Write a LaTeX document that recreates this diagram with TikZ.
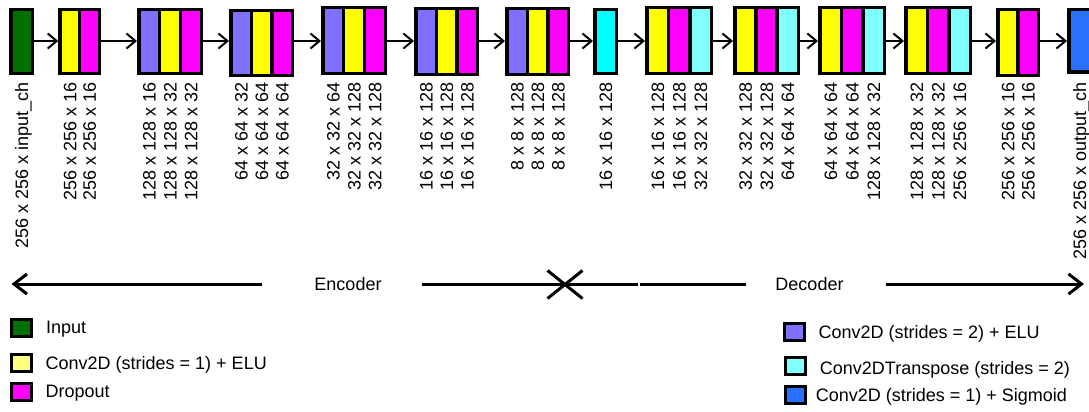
\documentclass[tikz,border=0pt]{standalone}
\usepackage{fontspec}
\setmainfont{Liberation Sans}
\usetikzlibrary{arrows.meta,shapes.misc}
\definecolor{cgreen}{RGB}{0,112,0}
\definecolor{cyellow}{RGB}{255,255,0}
\definecolor{cmag}{RGB}{255,0,255}
\definecolor{cpurple}{RGB}{128,112,255}
\definecolor{ccyan}{RGB}{0,255,255}
\definecolor{clcyan}{RGB}{128,255,255}
\definecolor{cblue}{RGB}{40,112,255}
\definecolor{clyellow}{RGB}{255,255,128}
\tikzset{
  blk/.style={draw=black, line width=3.5pt, inner sep=0pt},
  lbl/.style={rotate=90, anchor=base east, inner sep=0pt, font=\fontsize{18pt}{21pt}\selectfont},
  flow/.style={line width=2pt, -{Straight Barb[length=9pt,width=15pt]}},
  axisline/.style={line width=3pt},
  axarr/.style={axisline, -{Straight Barb[length=13pt,width=20pt]}},
  legbox/.style={draw=black, line width=3pt, minimum width=20pt, minimum height=17pt, inner sep=0pt},
  legtxt/.style={anchor=base west, inner sep=0pt, font=\fontsize{18pt}{21pt}\selectfont},
  axtxt/.style={anchor=base, inner sep=0pt, font=\fontsize{18pt}{21pt}\selectfont},
}
\newcommand\mkblock[7]{%
  \foreach \c/\t [count=\i from 0] in {#7} {
    \pgfmathsetmacro\xa{#2+(#3-#2)*\i/#6}
    \pgfmathsetmacro\xb{#2+(#3-#2)*(\i+1)/#6}
    \pgfmathsetmacro\xm{(\xa+\xb)/2+6.5}
    \fill[\c] (\xa,#4) rectangle (\xb,#5);
    \ifnum\i>0 \draw[line width=3.5pt] (\xa,#4) -- (\xa,#5);\fi
    \node[lbl] (#1-\i) at (\xm,82) {\t};
  }
  \pgfmathsetmacro\bw{#3-#2}
  \pgfmathsetmacro\bh{#5-#4}
  \node[blk, minimum width=\bw pt, minimum height=\bh pt] (#1) at ({(#2+#3)/2},{(#4+#5)/2}) {};
}
\begin{document}
\begin{tikzpicture}[x=1pt,y=-1pt]
\useasboundingbox (0,0) rectangle (1089,412);
\fill[white] (0,0) rectangle (1089,412);

\mkblock{b1}{10.75}{32.25}{9.75}{73.25}{1}{cgreen/256 x 256 x input\_ch}
\mkblock{b2}{60}{99.25}{9.75}{73.25}{2}{cyellow/256 x 256 x 16, cmag/256 x 256 x 16}
\mkblock{b3}{138.75}{201.25}{9.75}{73.25}{3}{cpurple/128 x 128 x 16, cyellow/128 x 128 x 32, cmag/128 x 128 x 32}
\mkblock{b4}{230.75}{292.25}{10.75}{75.25}{3}{cpurple/64 x 64 x 32, cyellow/64 x 64 x 64, cmag/64 x 64 x 64}
\mkblock{b5}{322.75}{385.25}{7.75}{73.25}{3}{cpurple/32 x 32 x 64, cyellow/32 x 32 x 128, cmag/32 x 32 x 128}
\mkblock{b6}{415.75}{477.25}{8.75}{74.25}{3}{cpurple/16 x 16 x 128, cyellow/16 x 16 x 128, cmag/16 x 16 x 128}
\mkblock{b7}{506.75}{568.25}{8.75}{74.25}{3}{cpurple/8 x 8 x 128, cyellow/8 x 8 x 128, cmag/8 x 8 x 128}
\mkblock{b8}{594.75}{616.25}{9.75}{73.25}{1}{ccyan/16 x 16 x 128}
\mkblock{b9}{646.75}{711.25}{7.75}{73.25}{3}{cyellow/16 x 16 x 128, cmag/16 x 16 x 128, clcyan/32 x 32 x 128}
\mkblock{b10}{734.75}{798.25}{7.75}{73.25}{3}{cyellow/32 x 32 x 128, cmag/32 x 32 x 128, clcyan/64 x 64 x 64}
\mkblock{b11}{819.75}{884.25}{7.75}{73.25}{3}{cyellow/64 x 64 x 64, cmag/64 x 64 x 64, clcyan/128 x 128 x 32}
\mkblock{b12}{905.75}{970.25}{7.75}{73.25}{3}{cyellow/128 x 128 x 32, cmag/128 x 128 x 32, clcyan/256 x 256 x 16}
\mkblock{b13}{997.75}{1038.25}{9.75}{75.25}{2}{cyellow/256 x 256 x 16, cmag/256 x 256 x 16}
\mkblock{b14}{1068.75}{1090.25}{9.75}{72.25}{1}{cblue/256 x 256 x output\_ch}

\coordinate (ay) at (0,41);
\foreach \a/\b in {b1/b2,b2/b3,b3/b4,b4/b5,b5/b6,b6/b7,b7/b8,b8/b9,b9/b10,b10/b11,b11/b12,b12/b13,b13/b14}
  \draw[flow] (\a.east |- ay) -- (\b.west |- ay);

% encoder / decoder axis
\node[axtxt] (enc) at (348,290.5) {Encoder};
\node[axtxt] (dec) at (809.5,290.5) {Decoder};
\coordinate (encL) at (262,284);
\coordinate (tipL) at (11.5,284);
\coordinate (m1) at (422,284);
\coordinate (m2) at (638,284);
\coordinate (m3) at (640,284);
\coordinate (m4) at (746,284);
\coordinate (decR) at (886,284);
\coordinate (tipR) at (1084,284);
\draw[axarr] (encL) -- (tipL);
\draw[axisline] (m1) -- (m2);
\draw[axisline] (m3) -- (m4);
\draw[axarr] (decR) -- (tipR);
\node[cross out, draw=black, line width=3pt, inner sep=0pt, minimum width=32pt, minimum height=25pt] (xmark) at (565,284.5) {};

% legend
\node[legbox, fill=cgreen] (lg1) at (21,328) {};
\node[legtxt] (lt1) at (46,333.3) {Input};
\node[legbox, fill=clyellow] (lg2) at (21,362.5) {};
\node[legtxt] (lt2) at (45.5,369) {Conv2D (strides = 1) + ELU};
\node[legbox, fill=cmag] (lg3) at (21,392) {};
\node[legtxt] (lt3) at (45.5,397.3) {Dropout};
\node[legbox, fill=cpurple] (lg4) at (794.7,331.7) {};
\node[legtxt] (lt4) at (818.3,338.3) {Conv2D (strides = 2) + ELU};
\node[legbox, fill=clcyan] (lg5) at (795,365.8) {};
\node[legtxt] (lt5) at (819.7,374) {Conv2DTranspose (strides = 2)};
\node[legbox, fill=cblue] (lg6) at (795,395) {};
\node[legtxt] (lt6) at (815.7,401.7) {Conv2D (strides = 1) + Sigmoid};
\end{tikzpicture}
\end{document}
